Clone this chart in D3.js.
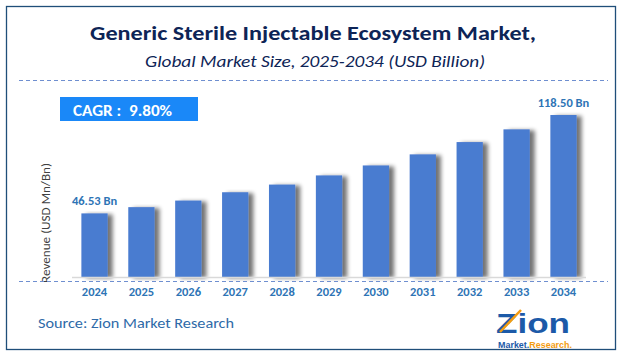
<!DOCTYPE html>
<html><head><meta charset="utf-8">
<script src="https://cdn.jsdelivr.net/npm/d3@7"></script>
<style>body{margin:0;background:#fff}svg{display:block}</style>
</head><body><svg id="c" width="621" height="356"></svg>
<script>
const years = ["2024","2025","2026","2027","2028","2029","2030","2031","2032","2033","2034"];
const values = [46.53, 51.1, 55.9, 62.0, 67.6, 74.3, 81.6, 89.7, 98.7, 108.0, 118.5];
const valueLabels = {"2024":"46.53 Bn","2034":"118.50 Bn"};
const titleText = "Generic Sterile Injectable Ecosystem Market,";
const subtitleText = "Global Market Size, 2025-2034 (USD Billion)";
const cagrText = "CAGR :  9.80%";
const yAxisLabel = "Revenue (USD Mn/Bn)";
const sourceText = "Source: Zion Market Research";

const svg = d3.select("#c");
const font = "Carlito, 'Open Sans', 'Liberation Sans', sans-serif";
const defs = svg.append("defs");
const f = defs.append("filter").attr("id","sh").attr("x","-20%").attr("y","-5%").attr("width","160%").attr("height","110%");
f.append("feGaussianBlur").attr("in","SourceAlpha").attr("stdDeviation",2.2);
f.append("feOffset").attr("dx",5).attr("dy",1).attr("result","b");
f.append("feComponentTransfer").append("feFuncA").attr("type","linear").attr("slope",0.55);
const m = f.append("feMerge"); m.append("feMergeNode"); m.append("feMergeNode").attr("in","SourceGraphic");

svg.append("rect").attr("x",6.5).attr("y",6.5).attr("width",609).attr("height",343)
  .attr("fill","#fff").attr("stroke","#1f4e79").attr("stroke-width",1.3);

svg.append("text").attr("x",313).attr("y",40).attr("text-anchor","middle")
  .attr("font-family",font).attr("font-weight","bold").attr("font-size",21).attr("fill","#0d2456")
  .attr("textLength",446).attr("lengthAdjust","spacingAndGlyphs").text(titleText);
svg.append("text").attr("x",315).attr("y",67).attr("text-anchor","middle")
  .attr("font-family",font).attr("font-style","italic").attr("font-size",16).attr("fill","#0d2456")
  .attr("textLength",340).attr("lengthAdjust","spacingAndGlyphs").text(subtitleText);

svg.append("line").attr("x1",19).attr("x2",608).attr("y1",80.5).attr("y2",80.5)
  .attr("stroke","#6f8fd0").attr("stroke-dasharray","4,3").attr("stroke-width",1);

svg.append("rect").attr("x",60).attr("y",97).attr("width",138).attr("height",24).attr("fill","#1a88f8");
svg.append("text").attr("x",73).attr("y",115.5).attr("font-family",font).attr("font-weight","bold")
  .attr("font-size",16.5).attr("fill","#fff").attr("textLength",99).attr("lengthAdjust","spacingAndGlyphs")
  .style("white-space","pre").text(cagrText);

const x = d3.scaleBand().domain(years).range([72,586]).paddingInner(0.44).paddingOuter(0.2);
const y = d3.scaleLinear().domain([0,118.5]).range([277,115]);

svg.append("text").attr("transform","translate(50,223) rotate(-90)").attr("text-anchor","middle")
  .attr("font-family",font).attr("font-size",13).attr("fill","#404040")
  .attr("textLength",120).attr("lengthAdjust","spacingAndGlyphs").text(yAxisLabel);

svg.append("g").selectAll("rect").data(values).join("rect")
  .attr("x",(d,i)=>x(years[i])).attr("width",x.bandwidth())
  .attr("y",d=>y(d)).attr("height",d=>y(0)-y(d))
  .attr("fill","#4a7bd0").attr("filter","url(#sh)");

svg.append("line").attr("x1",72).attr("x2",586).attr("y1",277.5).attr("y2",277.5).attr("stroke","#d9d9d9").attr("stroke-width",1.5);
svg.append("line").attr("x1",19).attr("x2",608).attr("y1",281.5).attr("y2",281.5)
  .attr("stroke","#6f8fd0").attr("stroke-dasharray","4,3").attr("stroke-width",1);

svg.append("g").selectAll("text").data(years.filter(d=>valueLabels[d])).join("text")
  .attr("x",d=>x(d)+x.bandwidth()/2).attr("y",d=>y(values[years.indexOf(d)])-8)
  .attr("text-anchor","middle").attr("font-family",font).attr("font-weight","bold")
  .attr("font-size",12.5).attr("fill","#2e74b5").text(d=>valueLabels[d]);

const xAxis = svg.append("g").attr("transform","translate(0,285)")
  .call(d3.axisBottom(x).tickSize(0).tickPadding(0));
xAxis.select(".domain").remove();
xAxis.selectAll("text").attr("dy","0.9em").attr("font-family",font).attr("font-weight","bold")
  .attr("font-size",12.5).attr("fill","#2e74b5");

svg.append("text").attr("x",38).attr("y",328).attr("font-family",font).attr("font-size",15)
  .attr("fill","#2e6aa8").attr("textLength",196).attr("lengthAdjust","spacingAndGlyphs").text(sourceText);

// logo
const lg = svg.append("g");
lg.append("text").attr("x",533).attr("y",333).attr("text-anchor","middle").attr("font-family","'Liberation Sans', Arial, sans-serif")
  .attr("font-weight","bold").attr("font-size",27).attr("fill","#1c5aa8")
  .attr("textLength",74).attr("lengthAdjust","spacingAndGlyphs").text("Zion");
lg.append("path").attr("d","M500,332 L521,310").attr("stroke","#f39c12").attr("stroke-width",2.5);
lg.append("text").attr("x",498).attr("y",348).attr("font-family","'Liberation Sans', Arial, sans-serif")
  .attr("font-weight","bold").attr("font-size",8.5).attr("fill","#1c5aa8")
  .attr("textLength",74).attr("lengthAdjust","spacingAndGlyphs").text("Market.")
  .append("tspan").attr("fill","#f39c12").text("Research.");
</script></body></html>
